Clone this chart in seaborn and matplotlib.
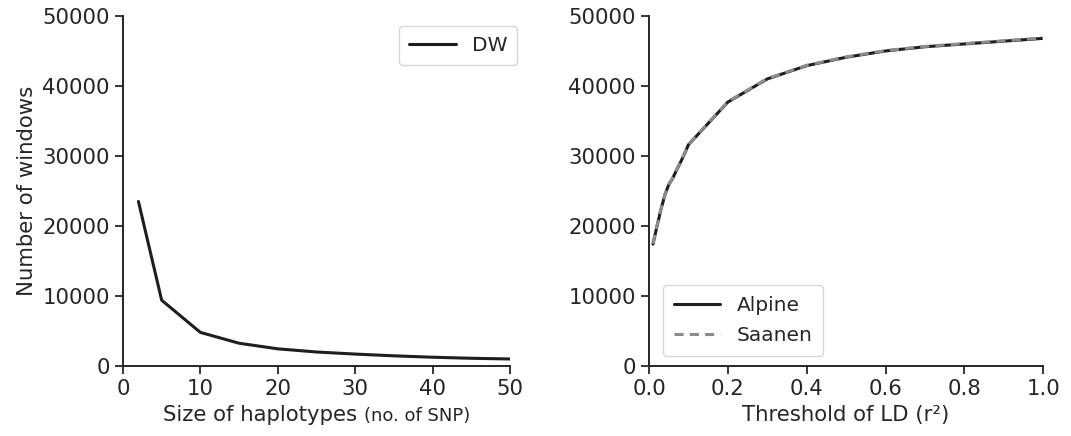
import matplotlib
matplotlib.use("Agg")
import matplotlib.pyplot as plt
import seaborn as sns
import pandas as pd

# Left panel: size of haplotypes vs number of windows
hap_size = [2, 5, 10, 15, 20, 25, 30, 35, 40, 45, 50]
dw_windows = [23500, 9400, 4800, 3250, 2450, 2000, 1700, 1450, 1250, 1100, 1000]

# Right panel: threshold of LD vs number of windows
ld_thresh = [0.01, 0.02, 0.03, 0.04, 0.05, 0.06, 0.07, 0.08, 0.09, 0.1,
             0.2, 0.3, 0.4, 0.5, 0.6, 0.7, 0.8, 0.9, 1.0]
alpine_windows = [17400, 19900, 22300, 24400, 25900, 26800, 28000, 29100, 30300, 31600,
                  37700, 41000, 42900, 44100, 45000, 45600, 46000, 46400, 46800]
saanen_windows = [17450, 19950, 22350, 24450, 25950, 26850, 28050, 29150, 30350, 31650,
                  37750, 41050, 42950, 44150, 45050, 45650, 46050, 46450, 46850]

sns.set_theme(style="ticks")
plt.rcParams['font.family'] = ['DejaVu Sans']

FS = 15.3
fig = plt.figure(figsize=(10.71, 4.36), dpi=100)
ax1 = fig.add_axes([0.1148, 0.1606, 0.3613, 0.8028])
ax2 = fig.add_axes([0.606, 0.1606, 0.368, 0.8028])

df1 = pd.DataFrame({"x": hap_size, "y": dw_windows})
sns.lineplot(data=df1, x="x", y="y", ax=ax1, color="#1e1e1e", lw=2.2, label="DW")

df2 = pd.DataFrame({"x": ld_thresh + ld_thresh,
                    "y": alpine_windows + saanen_windows,
                    "breed": ["Alpine"] * len(ld_thresh) + ["Saanen"] * len(ld_thresh)})
sns.lineplot(data=df2[df2.breed == "Alpine"], x="x", y="y", ax=ax2, color="#1e1e1e", lw=2.2, label="Alpine")
sns.lineplot(data=df2[df2.breed == "Saanen"], x="x", y="y", ax=ax2, color="#8c8c8c", lw=2.2,
             linestyle=(0, (3, 2)), label="Saanen")

for ax in (ax1, ax2):
    ax.set_ylim(0, 50000)
    ax.set_yticks([0, 10000, 20000, 30000, 40000, 50000])
    ax.tick_params(labelsize=FS, length=6, width=1.3, colors="#262626")
    for s in ("left", "bottom"):
        ax.spines[s].set_linewidth(1.4)
        ax.spines[s].set_color("#262626")
    sns.despine(ax=ax)

ax1.set_xlim(0, 50)
ax1.set_xticks([0, 10, 20, 30, 40, 50])
ax2.set_xlim(0, 1.0)
ax2.set_xticks([0.0, 0.2, 0.4, 0.6, 0.8, 1.0])

ax1.set_ylabel("Number of windows", fontsize=FS, color="#262626")
ax2.set_ylabel("")
ax1.set_xlabel("")
ax2.set_xlabel("Threshold of LD (r²)", fontsize=FS, color="#262626")

leg1 = ax1.legend(loc="upper right", fontsize=14.5, frameon=True, handlelength=2.3,
                  borderpad=0.5, bbox_to_anchor=(1.045, 1.0))
leg2 = ax2.legend(loc="lower left", fontsize=14.5, frameon=True, handlelength=2.3,
                  borderpad=0.55, labelspacing=0.55, bbox_to_anchor=(0.01, 0.0))
for leg in (leg1, leg2):
    leg.get_frame().set_edgecolor("#cccccc")
    for t in leg.get_texts():
        t.set_color("#262626")

# composite x label with a smaller parenthetical, centred under the left axes
fig.canvas.draw()
xlab_y = ax2.xaxis.label.get_window_extent().y0
r = fig.canvas.get_renderer()
t1 = fig.text(0, 0, "Size of haplotypes ", fontsize=FS, color="#262626", ha="left", va="baseline")
t2 = fig.text(0, 0, "(no. of SNP)", fontsize=13, color="#262626", ha="left", va="baseline")
w1 = t1.get_window_extent(r).width
w2 = t2.get_window_extent(r).width
bb1 = ax1.get_window_extent()
cx = (bb1.x0 + bb1.x1) / 2
base_y = xlab_y + 4
x0 = cx - (w1 + w2) / 2
W, H = fig.bbox.width, fig.bbox.height
t1.set_position((x0 / W, base_y / H))
t2.set_position(((x0 + w1) / W, base_y / H))

fig.savefig("out.png", dpi=100)
